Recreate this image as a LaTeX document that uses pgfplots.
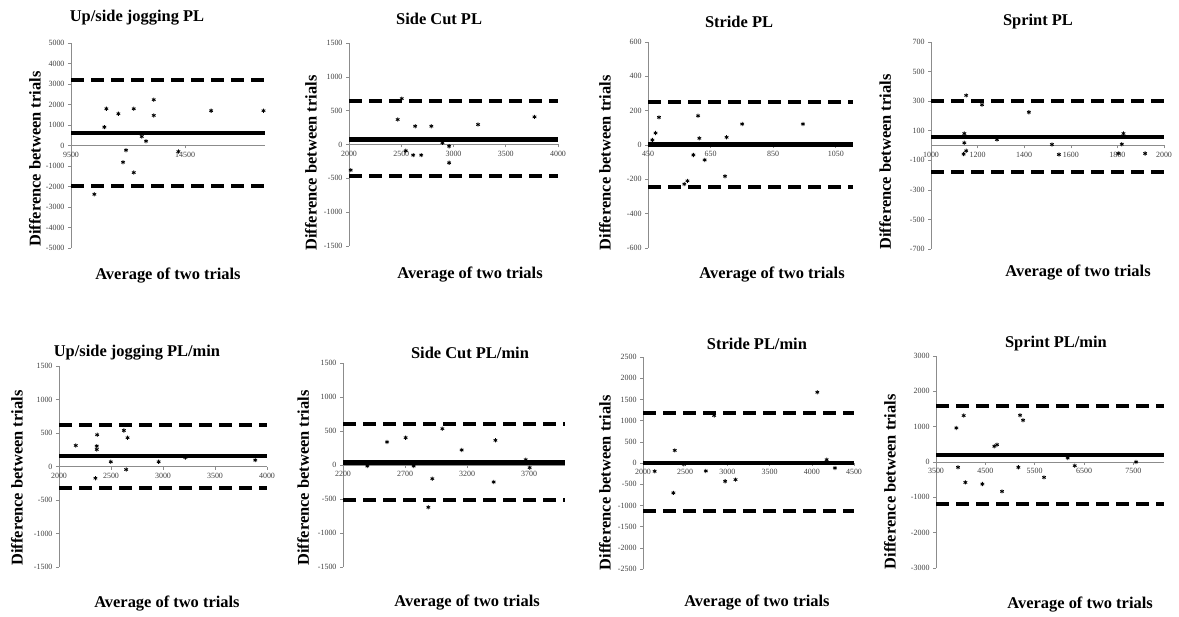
\documentclass[border=0pt]{standalone}
\usepackage{fontspec}
\setmainfont{Liberation Serif}
\usepackage{pgfplots}
\pgfplotsset{compat=1.18}
\pgfplotsset{
  ba/.style={
    scale only axis, clip=false,
    axis x line=middle, axis y line=left,
    hide obscured x ticks=false, hide obscured y ticks=false,
    scaled x ticks=false, scaled y ticks=false,
    axis line style={-, draw=black!45, line width=0.7bp},
    tick style={draw=black!45, line width=0.6bp},
    tick align=outside, major tick length=3bp,
    tick label style={font=\fontsize{8}{9}\selectfont, text=black!75},
    /pgf/number format/assume math mode=true,
    /pgf/number format/1000 sep={},
    xlabel={Average of two trials},
    ylabel={Difference between trials},
    anchor=south west,
  },
  tpos/.style 2 args={every axis title/.style={at={(axis description cs:#1,#2)},anchor=center,font=\bfseries\fontsize{16.5}{18}\selectfont}},
  xpos/.style 2 args={every axis x label/.style={at={(axis description cs:#1,#2)},anchor=center,font=\bfseries\fontsize{16.5}{18}\selectfont}},
  ypos/.style 2 args={every axis y label/.style={at={(axis description cs:#1,#2)},anchor=center,rotate=90,font=\bfseries\fontsize{16.5}{18}\selectfont}},
  pts/.style={only marks, mark=asterisk, mark size=2.1bp, mark options={line width=0.8bp,solid}, black},
  mean/.style={black, line width=4.5bp, no marks},
  loa/.style={black, line width=4bp, dash pattern=on 13bp off 7bp, no marks},
}
\begin{document}
\begin{tikzpicture}
\useasboundingbox (0,0) rectangle (1179bp,617bp);
% Panel 1
\begin{axis}[ba, at={(71bp,369bp)}, width=194bp, height=205bp,
  xmin=9500, xmax=18000, ymin=-5000, ymax=5000,
  xtick={9500,14500}, ytick={-5000,-4000,...,5000},
  title={Up/side jogging PL},
  tpos={0.340}{1.122}, xpos={0.5}{-0.132}, ypos={-0.186}{0.434}]
\addplot[mean] coordinates {(9500,600) (18000,600)};
\addplot[loa] coordinates {(9500,3200) (18000,3200)};
\addplot[loa] coordinates {(9500,-2000) (18000,-2000)};
\addplot[pts] coordinates {(10523,-2380) (10962,897) (11050,1794) (11576,1550) (11781,-816) (11912,-228) (12249,1794) (12249,-1321) (12600,440) (12790,212) (13126,2235) (13126,1468) (14208,-294) (15640,1697) (17935,1697)};
\end{axis}
% Panel 2
\begin{axis}[ba, at={(349bp,371bp)}, width=209bp, height=203bp,
  xmin=2000, xmax=4000, ymin=-1500, ymax=1500,
  xtick={2000,2500,...,4000}, ytick={-1500,-1000,...,1500},
  title={Side Cut PL},
  tpos={0.431}{1.118}, xpos={0.579}{-0.143}, ypos={-0.182}{0.409}]
\addplot[mean] coordinates {(2000,75) (4000,75)};
\addplot[loa] coordinates {(2000,640) (4000,640)};
\addplot[loa] coordinates {(2000,-467) (4000,-467)};
\addplot[pts] coordinates {(2016,-379) (2466,369) (2505,678) (2543,-93) (2614,-157) (2633,270) (2691,-157) (2788,270) (2894,25) (2958,-25) (2958,-270) (3235,295) (3775,408)};
\end{axis}
% Panel 3
\begin{axis}[ba, at={(648bp,369bp)}, width=205bp, height=206bp,
  xmin=450, xmax=1105, ymin=-600, ymax=600,
  xtick={450,650,850,1050}, ytick={-600,-400,...,600},
  title={Stride PL},
  tpos={0.444}{1.097}, xpos={0.605}{-0.131}, ypos={-0.210}{0.413}]
\addplot[mean] coordinates {(450,2) (1105,2)};
\addplot[loa] coordinates {(450,250) (1105,250)};
\addplot[loa] coordinates {(450,-246) (1105,-246)};
\addplot[pts] coordinates {(464,29) (474,70) (485,161) (566,-228) (576,-209) (595,-58) (610,170) (614,39) (631,-87) (696,-182) (701,45) (751,122) (945,122)};
\end{axis}
% Panel 4
\begin{axis}[ba, at={(931bp,368bp)}, width=233bp, height=207bp,
  xmin=1000, xmax=2000, ymin=-700, ymax=700,
  xtick={1000,1200,...,2000}, ytick={-700,-500,...,700},
  title={Sprint PL},
  tpos={0.459}{1.101}, xpos={0.631}{-0.116}, ypos={-0.197}{0.420}]
\addplot[mean] coordinates {(1000,58) (2000,58)};
\addplot[loa] coordinates {(1000,300) (2000,300)};
\addplot[loa] coordinates {(1000,-178) (2000,-178)};
\addplot[pts] coordinates {(1140,-58) (1143,81) (1143,18) (1151,-36) (1151,339) (1219,276) (1283,40) (1420,225) (1519,7) (1549,-61) (1804,-54) (1819,9) (1826,81) (1919,-54)};
\end{axis}
% Panel 5
\begin{axis}[ba, at={(59bp,50bp)}, width=208bp, height=201bp,
  xmin=2000, xmax=4000, ymin=-1500, ymax=1500,
  xtick={2000,2500,...,4000}, ytick={-1500,-1000,...,1500},
  title={Up/side jogging PL/min},
  tpos={0.375}{1.065}, xpos={0.519}{-0.184}, ypos={-0.202}{0.443}]
\addplot[mean] coordinates {(2000,155) (4000,155)};
\addplot[loa] coordinates {(2000,623) (4000,623)};
\addplot[loa] coordinates {(2000,-324) (4000,-324)};
\addplot[pts] coordinates {(2161,314) (2350,-174) (2363,304) (2363,254) (2367,474) (2498,70) (2624,538) (2646,-45) (2659,429) (2958,70) (3215,135) (3887,95)};
\end{axis}
% Panel 6
\begin{axis}[ba, at={(343bp,50bp)}, width=222bp, height=204bp,
  xmin=2200, xmax=3990, ymin=-1500, ymax=1500,
  xtick={2200,2700,3200,3700}, ytick={-1500,-1000,...,1500},
  title={Side Cut PL/min},
  tpos={0.572}{1.049}, xpos={0.559}{-0.172}, ypos={-0.180}{0.436}]
\addplot[mean] coordinates {(2200,39) (3990,39)};
\addplot[loa] coordinates {(2200,598) (3990,598)};
\addplot[loa] coordinates {(2200,-520) (3990,-520)};
\addplot[pts] coordinates {(2396,-15) (2555,338) (2705,402) (2770,-15) (2888,-622) (2920,-201) (3001,534) (3157,221) (3415,-250) (3429,363) (3673,78) (3705,-39)};
\end{axis}
% Panel 7
\begin{axis}[ba, at={(643bp,48bp)}, width=211bp, height=212bp,
  xmin=2000, xmax=4500, ymin=-2500, ymax=2500,
  xtick={2000,2500,...,4500}, ytick={-2500,-2000,...,2500},
  title={Stride PL/min},
  tpos={0.540}{1.061}, xpos={0.540}{-0.160}, ypos={-0.180}{0.406}]
\addplot[mean] coordinates {(2000,0) (4500,0)};
\addplot[loa] coordinates {(2000,1183) (4500,1183)};
\addplot[loa] coordinates {(2000,-1128) (4500,-1128)};
\addplot[pts] coordinates {(2138,-196) (2360,-705) (2376,298) (2483,-31) (2744,-188) (2843,1120) (2973,-431) (3096,-392) (4065,1669) (4176,78) (4274,-118)};
\end{axis}
% Panel 8
\begin{axis}[ba, at={(936bp,49bp)}, width=228bp, height=212bp,
  xmin=3500, xmax=8120, ymin=-3000, ymax=3000,
  xtick={3500,4500,...,7500}, ytick={-3000,-2000,...,3000},
  title={Sprint PL/min},
  tpos={0.526}{1.057}, xpos={0.632}{-0.170}, ypos={-0.202}{0.406}]
\addplot[mean] coordinates {(3500,198) (8120,198)};
\addplot[loa] coordinates {(3500,1578) (8120,1578)};
\addplot[loa] coordinates {(3500,-1181) (8120,-1181)};
\addplot[pts] coordinates {(3912,964) (3946,-151) (4061,1314) (4095,-577) (4439,-624) (4682,444) (4736,491) (4838,-832) (5169,-151) (5203,1323) (5264,1181) (5689,-435) (6169,113) (6311,-104) (7554,0)};
\end{axis}
\end{tikzpicture}
\end{document}
